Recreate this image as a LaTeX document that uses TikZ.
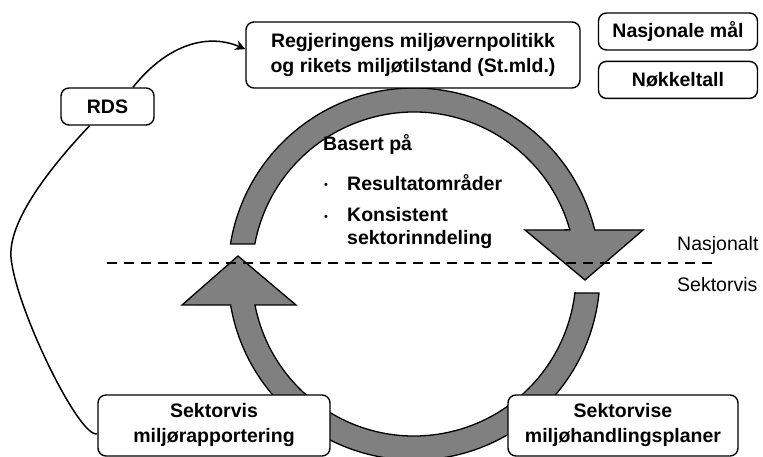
\documentclass[tikz,border=0pt]{standalone}
\usepackage{fontspec}
\setmainfont{Liberation Sans}
\usetikzlibrary{calc, arrows, arrows.meta, positioning}
\definecolor{ringgra}{RGB}{128,128,128}
\newcommand{\storskrift}{\fontsize{19.5}{25}\selectfont}
\tikzset{
  boks/.style={draw, line width=1.4pt, rounded corners=8pt, fill=white, align=center,
    inner sep=0pt, font=\storskrift\bfseries},
  ring/.style={draw, line width=1.3pt, fill=ringgra, line join=miter},
  tekst/.style={anchor=west, inner sep=0pt, font=\storskrift\bfseries},
  punkt/.style={anchor=west, inner sep=0pt, font=\fontsize{11}{11}\selectfont},
  etikett/.style={anchor=west, inner sep=0pt, font=\storskrift},
  forbind/.style={line width=1.5pt}
}
\begin{document}
\begin{tikzpicture}[x=1pt,y=1pt]
      \useasboundingbox (0,0) rectangle (763,457);
      \coordinate (C) at (414,183);
      \draw[ring] ($(C)+(170.7:186)$) arc[start angle=170.7, end angle=13.7, radius=186]
          -- (643,227) -- (585,177) -- (525,227)
          -- ($(C)+(15.8:162)$) arc[start angle=15.8, end angle=169.3, radius=162] -- cycle;
      \draw[ring] ($(C)+(-5.9:186)$) arc[start angle=-5.9, end angle=-170.4, radius=186]
          -- (182,152) -- (238,201) -- (296,152)
          -- ($(C)+(-169:162)$) arc[start angle=-169, end angle=-6.7, radius=162] -- cycle;
      \node[boks, minimum width=334pt, minimum height=66pt] (regj) at (413,402)
          {Regjeringens miljøvernpolitikk\\og rikets miljøtilstand (St.mld.)};
      \node[boks, minimum width=159pt, minimum height=37pt] (nasjmaal) at (678,425.5) {Nasjonale mål};
      \node[boks, minimum width=159pt, minimum height=37pt, below=10pt of nasjmaal] (nokkel) {Nøkkeltall};
      \node[boks, minimum width=93pt, minimum height=37pt] (rds) at (107.5,350.5) {RDS};
      \node[boks, minimum width=232pt, minimum height=61pt] (rapp) at (214,31.5)
          {Sektorvis\\miljørapportering};
      \node[boks, minimum width=230pt, minimum height=61pt] (hplan) at (623,31.5)
          {Sektorvise\\miljøhandlingsplaner};
      \coordinate (skille1) at (107,194);
      \coordinate (skille2) at (718,194);
      \draw[line width=1.4pt, dash pattern=on 10pt off 7pt] (skille1) -- (skille2);
      \node[etikett] (nasjonalt) at (677,212) {Nasjonalt};
      \node[etikett] (sektorvis) at (677,172) {Sektorvis};
      \node[tekst] (basert) at (323,312) {Basert på};
      \node[punkt] (punkt1) at (324,271) {•};
      \node[tekst] (resultat) at (347,274) {Resultatområder};
      \node[punkt] (punkt2) at (324,239) {•};
      \node[tekst] (konsistent) at (347,242) {Konsistent};
      \node[tekst] (inndeling) at (347,217) {sektorinndeling};
      \coordinate (bue) at (11,200);
      \draw[forbind] (rapp.184) .. controls (80,17) and (15,150) .. (bue)
          .. controls (8,240) and (60,300) .. (rds.-133);
      \draw[forbind, -{Stealth[length=10pt, width=10pt, inset=3pt]}] (rds.37)
          .. controls (165,410) and (205,425) .. (regj.178);
\end{tikzpicture}
\end{document}
